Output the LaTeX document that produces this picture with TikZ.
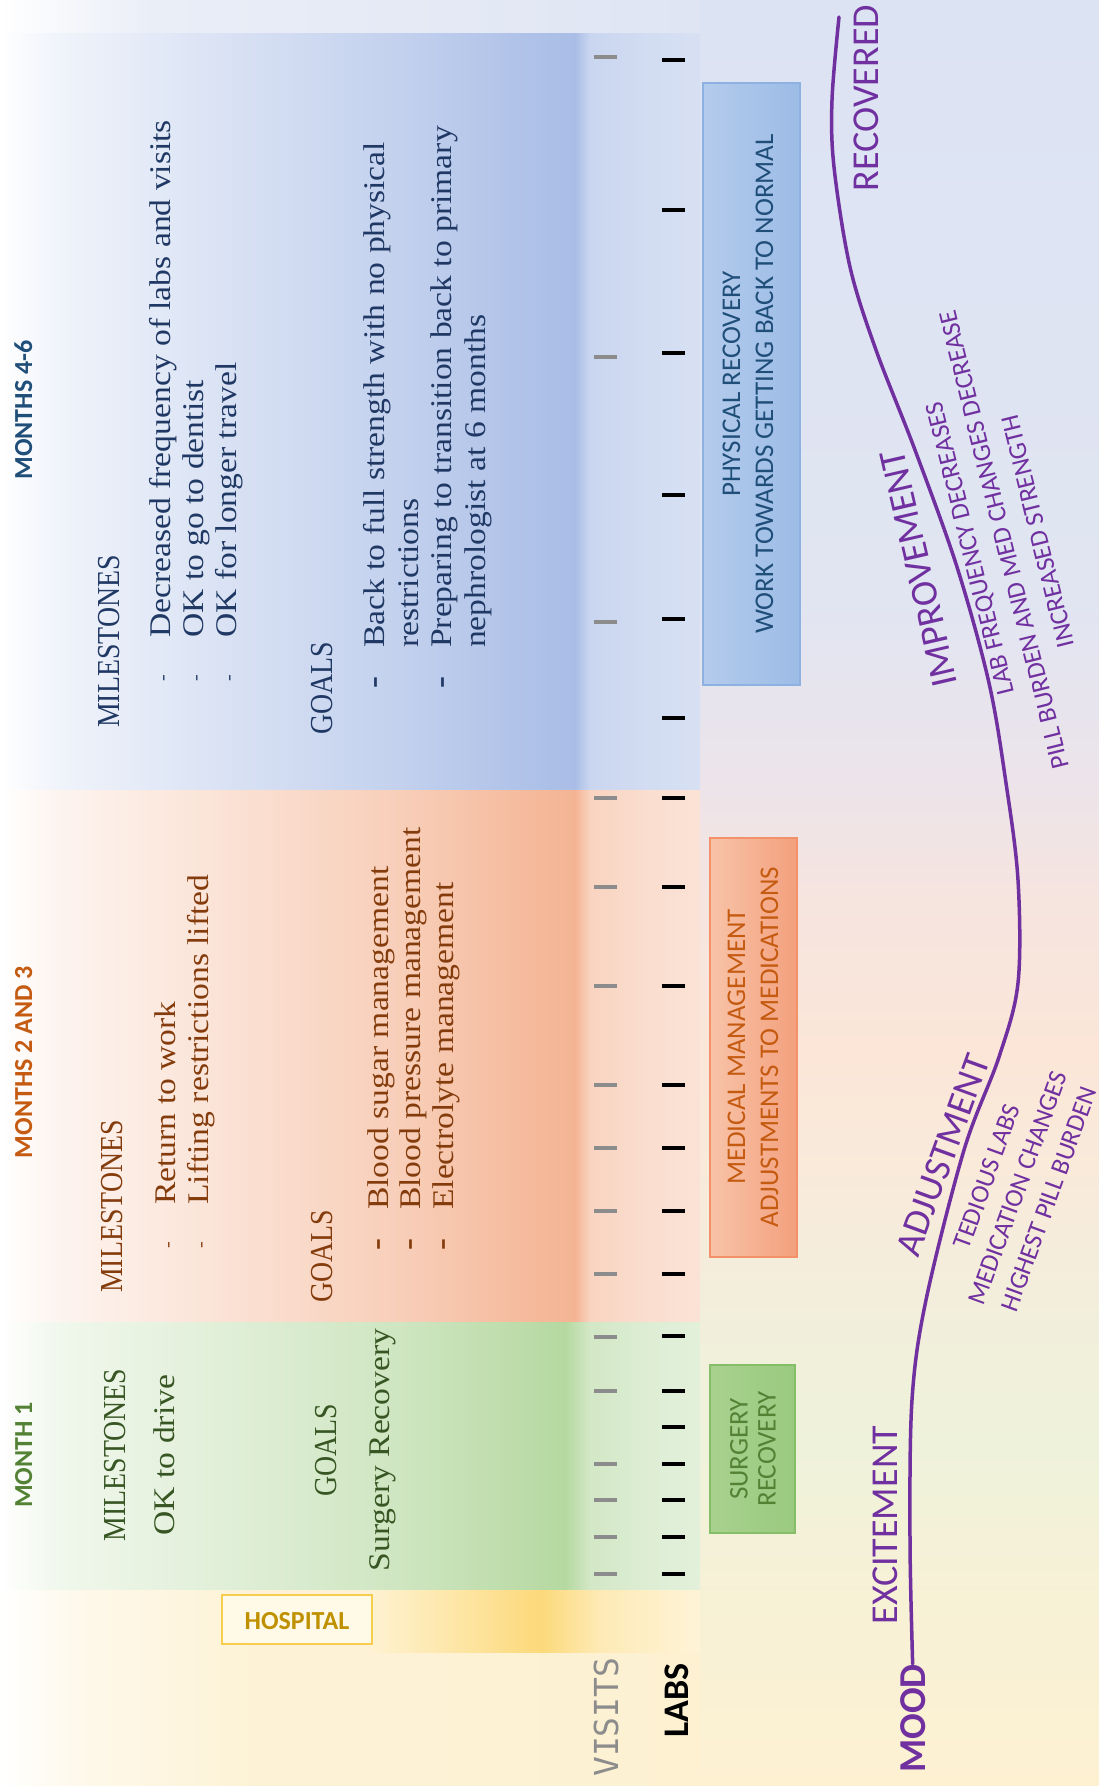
\documentclass[tikz,border=0pt]{standalone}
\usepackage{fontspec}
\usepackage{xcolor}
\newfontfamily\serifbody[FakeStretch=1.12]{Liberation Serif}
\newfontfamily\serifhead[FakeStretch=0.87]{Liberation Serif}
\newfontfamily\sanslabel{Carlito}
\newfontfamily\monolabel{DejaVu Sans Mono}

% text colours
\definecolor{navytitle}{HTML}{1F4E79}
\definecolor{navytext}{HTML}{1F3864}
\definecolor{orangetitle}{HTML}{C55A11}
\definecolor{browntext}{HTML}{843C0C}
\definecolor{greentitle}{HTML}{548235}
\definecolor{greentext}{HTML}{375623}
\definecolor{moodpurple}{HTML}{7030A0}
\definecolor{visitgray}{HTML}{8C8C8C}
% box colours
\definecolor{hospgold}{HTML}{BF9000}
\definecolor{hospedge}{HTML}{F6CD4C}
\definecolor{hospfill}{HTML}{FFFAE8}
\definecolor{physA}{HTML}{B4CBEC}
\definecolor{physB}{HTML}{9CBCE6}
\definecolor{physedge}{HTML}{8DB2E2}
\definecolor{medA}{HTML}{F8C3A8}
\definecolor{medB}{HTML}{F3A07D}
\definecolor{mededge}{HTML}{F2916A}
\definecolor{surgA}{HTML}{A8D18E}
\definecolor{surgB}{HTML}{9ACA80}
\definecolor{surgedge}{HTML}{86BD68}

% band colours
\definecolor{bluepeak}{HTML}{A9BDE6}
\colorlet{bb1}{bluepeak!18!white}
\colorlet{bb2}{bluepeak!40!white}
\colorlet{bb3}{bluepeak!70!white}
\colorlet{bb4}{bluepeak!92!white}
\colorlet{bb5}{bluepeak!62!white}
\colorlet{bb6}{bluepeak!52!white}
\colorlet{bb7}{bluepeak!46!white}
\definecolor{orangepeak}{HTML}{F4B493}
\colorlet{ob1}{orangepeak!15!white}
\colorlet{ob2}{orangepeak!35!white}
\colorlet{ob3}{orangepeak!65!white}
\colorlet{ob4}{orangepeak!90!white}
\colorlet{ob5}{orangepeak!58!white}
\colorlet{ob6}{orangepeak!44!white}
\colorlet{ob7}{orangepeak!38!white}
\definecolor{greenpeak}{HTML}{B5D8A0}
\colorlet{gb1}{greenpeak!20!white}
\colorlet{gb2}{greenpeak!38!white}
\colorlet{gb3}{greenpeak!65!white}
\colorlet{gb4}{greenpeak!90!white}
\colorlet{gb5}{greenpeak!60!white}
\colorlet{gb6}{greenpeak!45!white}
\colorlet{gb7}{greenpeak!38!white}
\definecolor{hosppeak}{HTML}{FCD97A}
\colorlet{hy1}{hosppeak!35!white}
\colorlet{hy2}{hosppeak!65!white}
\colorlet{hy3}{hosppeak!55!white}
\colorlet{hy4}{hosppeak!30!white}
\definecolor{creampeak}{HTML}{FDF1D2}
\colorlet{cr1}{creampeak!45!white}
\colorlet{cr2}{creampeak!90!white}
\definecolor{toppeak}{HTML}{DFE5F3}
\colorlet{tp1}{toppeak!65!white}
\definecolor{rbg1}{HTML}{FDF1D2}
\definecolor{rbg2}{HTML}{F7F1D6}
\definecolor{rbg3}{HTML}{EFF2DB}
\definecolor{rbg4}{HTML}{F1EFDB}
\definecolor{rbg5}{HTML}{F8EBDB}
\definecolor{rbg6}{HTML}{FBE6D8}
\definecolor{rbg7}{HTML}{F6E4DF}
\definecolor{rbg8}{HTML}{ECE4EA}
\definecolor{rbg9}{HTML}{E1E5F2}
\definecolor{rbg10}{HTML}{DCE3F3}

% shadings
\pgfdeclareverticalshading{rightbg}{100bp}{color(0bp)=(rbg1); color(25bp)=(rbg1);
  color(30.2bp)=(rbg2); color(34.4bp)=(rbg3); color(38bp)=(rbg4); color(41.4bp)=(rbg5);
  color(45.6bp)=(rbg6); color(49.8bp)=(rbg7); color(53.2bp)=(rbg8); color(58.2bp)=(rbg9);
  color(75bp)=(rbg10); color(100bp)=(rbg10)}
\pgfdeclarehorizontalshading{topband}{100bp}{color(0bp)=(white); color(25bp)=(white);
  color(35.71bp)=(tp1); color(75bp)=(toppeak); color(100bp)=(toppeak)}
\pgfdeclarehorizontalshading{blueband}{100bp}{color(0bp)=(white); color(25bp)=(white);
  color(29.29bp)=(bb1); color(39.29bp)=(bb2); color(53.57bp)=(bb3); color(62.14bp)=(bb4);
  color(66.07bp)=(bluepeak); color(67.14bp)=(bb5); color(71.43bp)=(bb6);
  color(75bp)=(bb7); color(100bp)=(bb7)}
\pgfdeclarehorizontalshading{orangeband}{100bp}{color(0bp)=(white); color(25bp)=(white);
  color(29.29bp)=(ob1); color(39.29bp)=(ob2); color(53.57bp)=(ob3); color(62.14bp)=(ob4);
  color(66.07bp)=(orangepeak); color(67.14bp)=(ob5); color(71.43bp)=(ob6);
  color(75bp)=(ob7); color(100bp)=(ob7)}
\pgfdeclarehorizontalshading{greenband}{100bp}{color(0bp)=(white); color(25bp)=(white);
  color(29.29bp)=(gb1); color(39.29bp)=(gb2); color(53.57bp)=(gb3); color(62.14bp)=(gb4);
  color(65.36bp)=(greenpeak); color(67.14bp)=(gb5); color(71.43bp)=(gb6);
  color(75bp)=(gb7); color(100bp)=(gb7)}
\pgfdeclarehorizontalshading{creamband}{100bp}{color(0bp)=(white); color(25bp)=(white);
  color(30.71bp)=(cr1); color(42.86bp)=(cr2); color(75bp)=(creampeak); color(100bp)=(creampeak)}
\pgfdeclarehorizontalshading{hospband}{100bp}{color(0bp)=(hy1); color(25bp)=(hy1);
  color(37.12bp)=(hy2); color(50.76bp)=(hosppeak); color(59.85bp)=(hy3);
  color(75bp)=(hy4); color(100bp)=(hy4)}

\tikzset{
  monthtitle/.style={rotate=90, anchor=base, inner sep=0pt, font=\sanslabel\bfseries\fontsize{26}{30}\selectfont},
  headword/.style={rotate=90, anchor=base west, inner sep=0pt, font=\serifhead\fontsize{32}{36}\selectfont},
  bodyline/.style={rotate=90, anchor=base west, inner sep=0pt, font=\serifbody\fontsize{30}{34}\selectfont},
  dotbullet/.style={rotate=90, anchor=base, inner sep=0pt, font=\serifbody\fontsize{18}{20}\selectfont},
  dashbullet/.style={rotate=90, anchor=base, inner sep=0pt, font=\serifbody\bfseries\fontsize{32}{34}\selectfont},
  boxtext/.style={rotate=90, align=center, inner sep=0pt, font=\sanslabel\fontsize{27}{33}\selectfont},
  hosptext/.style={inner sep=0pt, text=hospgold, font=\sanslabel\bfseries\fontsize{26}{30}\selectfont},
  trackname/.style={rotate=90, anchor=base west, inner sep=0pt},
  moodbig/.style={inner sep=0pt, text=moodpurple, font=\sanslabel\fontsize{38}{42}\selectfont},
  moodsmall/.style={inner sep=0pt, align=center, text=moodpurple, font=\sanslabel\fontsize{26}{33}\selectfont},
  visittick/.style={draw=visitgray, line width=4pt},
  labtick/.style={draw=black, line width=4pt},
  moodline/.style={draw=moodpurple, line width=3.5pt, line cap=round}
}

\begin{document}
\begin{tikzpicture}[x=1pt,y=-1pt]
\useasboundingbox (0,0) rectangle (1099,1786);

% background bands
\shade[shading=rightbg] (0,0) rectangle (1099,1786);
\shade[shading=topband] (0,0) rectangle (700,34);
\shade[shading=blueband] (0,33) rectangle (700,791);
\shade[shading=orangeband] (0,790) rectangle (700,1323);
\shade[shading=greenband] (0,1322) rectangle (700,1591);
\shade[shading=creamband] (0,1590) rectangle (700,1786);
\shade[shading=hospband] (372,1590) rectangle (700,1652);

% visits and labs
\foreach \y in {57,357,622,798,887,986,1085,1148,1211,1274,1337,1391,1464,1500,1537,1574}
  \draw[visittick] (594,\y) -- (617,\y);
\foreach \y in {60,210,353,495,619,718,798,887,986,1085,1148,1211,1274,1336,1391,1427,1464,1500,1537,1574}
  \draw[labtick] (662,\y) -- (685,\y);
\node[trackname, text=visitgray, font=\monolabel\fontsize{33}{36}\selectfont] (visits) at (618,1777) {VISITS};
\node[trackname, font=\sanslabel\bfseries\fontsize{36}{40}\selectfont] (labs) at (688,1738) {LABS};

% phase boxes
\shade[left color=physA, right color=physB, draw=physedge, line width=1.5pt] (703,83) rectangle (800,685);
\node[boxtext, text=navytitle] (phys) at (748,384) {PHYSICAL RECOVERY\\WORK TOWARDS GETTING BACK TO NORMAL};
\shade[left color=medA, right color=medB, draw=mededge, line width=1.5pt] (710,838) rectangle (797,1257);
\node[boxtext, text=orangetitle] (med) at (753,1047) {MEDICAL MANAGEMENT\\ADJUSTMENTS TO MEDICATIONS};
\shade[left color=surgA, right color=surgB, draw=surgedge, line width=1.5pt] (710,1365) rectangle (795,1533);
\node[boxtext, text=greentitle, font=\sanslabel\fontsize{27}{28}\selectfont] (surg) at (753,1449) {SURGERY\\RECOVERY};
\draw[draw=hospedge, fill=hospfill, line width=1.5pt] (222,1595) rectangle (372,1644);
\node[hosptext] (hosp) at (297,1621) {HOSPITAL};

% months 4-6
\node[monthtitle, text=navytitle] (t46) at (32,410) {MONTHS 4-6};
\node[headword, text=navytext] (ms46) at (119,728) {MILESTONES};
\node[bodyline, text=navytext] (ms46a) at (170,638) {Decreased frequency of labs and visits};
\node[bodyline, text=navytext] (ms46b) at (203,638) {OK to go to dentist};
\node[bodyline, text=navytext] (ms46c) at (236,638) {OK for longer travel};
\foreach \bx [count=\i] in {168,201,234}
  \node[dotbullet, text=navytext] (ms46d\i) at (\bx,678) {-};
\node[headword, text=navytext] (g46) at (332,735) {GOALS};
\node[bodyline, text=navytext] (g46a) at (384,648) {Back to full strength with no physical};
\node[bodyline, text=navytext] (g46b) at (418,648) {restrictions};
\node[bodyline, text=navytext] (g46c) at (451,648) {Preparing to transition back to primary};
\node[bodyline, text=navytext] (g46d) at (485,648) {nephrologist at 6 months};
\node[dashbullet, text=navytext] (g46e) at (383,683) {-};
\node[dashbullet, text=navytext] (g46f) at (450,683) {-};

% months 2 and 3
\node[monthtitle, text=orangetitle] (t23) at (32,1062) {MONTHS 2 AND 3};
\node[headword, text=browntext] (ms23) at (122,1293) {MILESTONES};
\node[bodyline, text=browntext] (ms23a) at (175,1205) {Return to work};
\node[bodyline, text=browntext] (ms23b) at (208,1205) {Lifting restrictions lifted};
\foreach \bx [count=\i] in {173,206}
  \node[dotbullet, text=browntext] (ms23d\i) at (\bx,1245) {-};
\node[headword, text=browntext] (g23) at (332,1303) {GOALS};
\node[bodyline, text=browntext] (g23a) at (388,1210) {Blood sugar management};
\node[bodyline, text=browntext] (g23b) at (420,1210) {Blood pressure management};
\node[bodyline, text=browntext] (g23c) at (453,1210) {Electrolyte management};
\foreach \bx [count=\i] in {386,418,451}
  \node[dashbullet, text=browntext] (g23d\i) at (\bx,1245) {-};

% month 1
\node[monthtitle, text=greentitle] (t1) at (32,1455) {MONTH 1};
\node[headword, anchor=base, text=greentext] (ms1) at (125,1455) {MILESTONES};
\node[bodyline, anchor=base, text=greentext] (ms1a) at (174,1455) {OK to drive};
\node[headword, anchor=base, text=greentext] (g1) at (336,1450) {GOALS};
\node[bodyline, anchor=base, text=greentext] (g1a) at (389,1450) {Surgery Recovery};

% mood curve
\node[moodbig, rotate=90, anchor=base west, font=\sanslabel\bfseries\fontsize{38}{42}\selectfont] (mood) at (925,1773) {MOOD};
\node[moodbig, rotate=90, anchor=base] (excite) at (897,1525) {EXCITEMENT};
\node[moodbig, rotate=70] (adjust) at (943,1155) {ADJUSTMENT};
\node[moodsmall, rotate=70] (adjustnotes) at (1018,1188) {TEDIOUS LABS\\MEDICATION CHANGES\\HIGHEST PILL BURDEN};
\node[moodbig, rotate=103] (improve) at (919,569) {IMPROVEMENT};
\node[moodsmall, rotate=104, font=\sanslabel\fontsize{26}{35}\selectfont] (improvenotes) at (1004,540) {LAB FREQUENCY DECREASES\\PILL BURDEN AND MED CHANGES DECREASE\\INCREASED STRENGTH};
\node[moodbig, rotate=90, anchor=base] (recover) at (878,98) {RECOVERED};
\draw[moodline] plot[smooth, tension=0.55] coordinates {(mood.east) (910,1540) (912,1400) (926,1300)
  (964,1150) (999,1057) (1018,983) (1018,880) (1006,783) (989,683) (957,567) (915,450)
  (876,350) (850,267) (834,167) (832,100) (839,17)};

\end{tikzpicture}
\end{document}
